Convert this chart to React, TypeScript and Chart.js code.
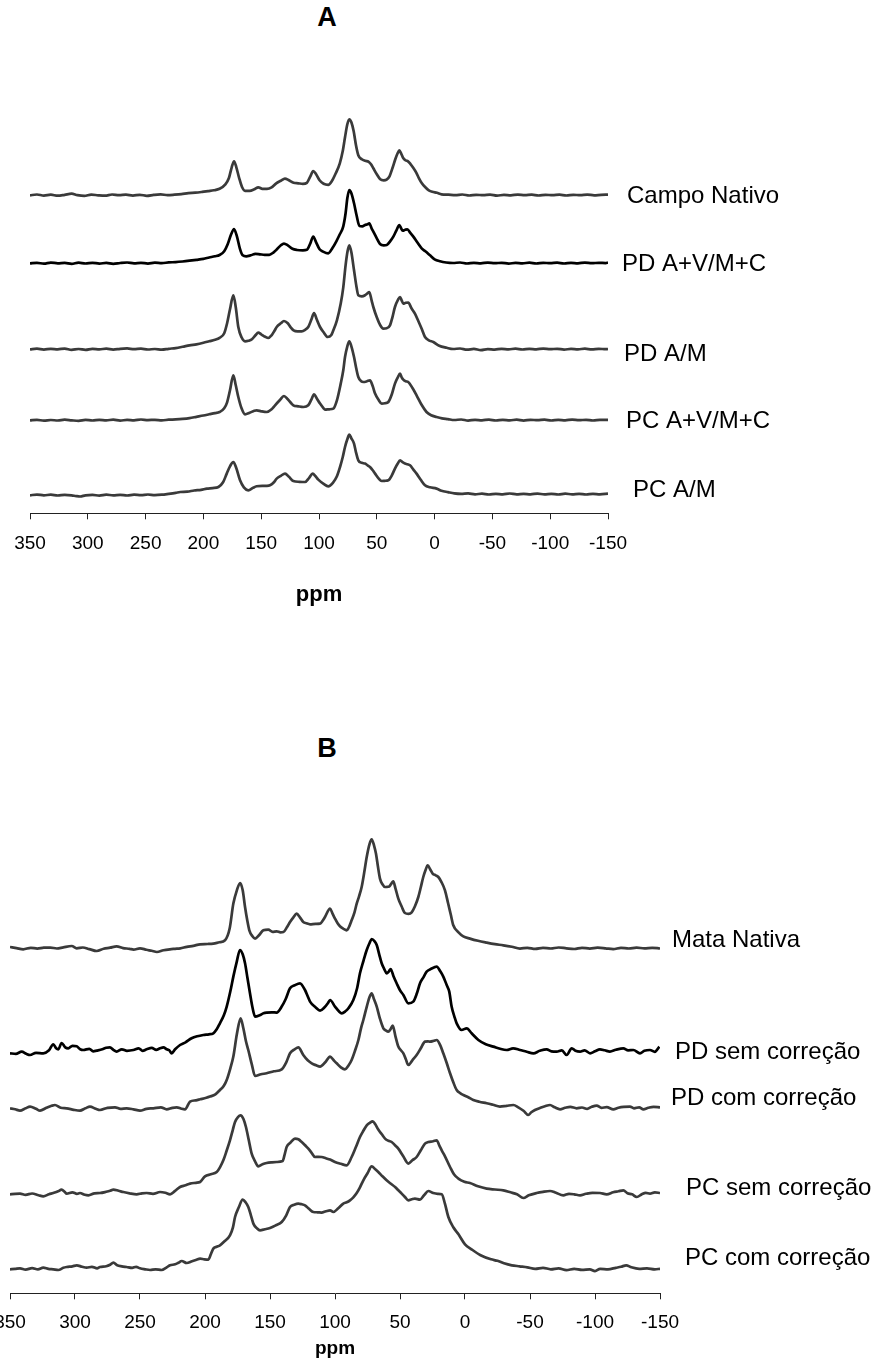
import React, { useEffect, useRef } from "react";
import { Chart, registerables } from "chart.js";

Chart.register(...registerables);

const FONT = '"Liberation Sans", Arial, Helvetica, sans-serif';

// ppm tick labels (shared by both panels)
const ppmTicks = [-150, -100, -50, 0, 50, 100, 150, 200, 250, 300, 350];

// ---------------- Panel A ----------------
const namesA = ["Campo Nativo", "PD A+V/M+C", "PD A/M", "PC A+V/M+C", "PC A/M"];
const offsetsA = [318, 250, 164, 93, 18];

const campoNativo: number[][] = [
  [350,0],[344,0.8],[338,-0.3],[332,0.6],[326,-0.4],[320,0.5],[314,1.6],[309,0.2],[303,-0.5],[297,0.7],[291,0],[285,-0.4],[279,0.8],[273,0.1],[267,0.6],[261,-0.3],[255,0.5],[249,-0.5],[243,0.4],[237,0.9],[231,0.2],[225,0.6],[219,1.2],[213,2.2],[207,2.6],[201,3.4],[196,4.2],[191,5],[186,6.5],[181,11],[178,17],[175.5,28],[173.5,34],[171.5,28],[169,17],[166.5,8],[164,4.5],[160,4.5],[156,6],[152.5,8],[149,6.5],[145,6.5],[141,8],[137,12],[133,14.5],[129.5,16.7],[126,15],[122,12.5],[118,12],[114,11.5],[110.5,12.5],[107.5,19],[105,24.3],[102.5,21],[99.5,15],[96,11.5],[92,10.5],[89,14],[85.5,22],[82,32],[79.5,44],[77.5,58],[75.5,71],[73.8,76],[72,73],[70,64],[68,50],[66,40],[63,36],[60,34.5],[57,33.5],[55,31],[53,27],[50,21],[47,16],[44,15],[41.5,15.7],[39,19],[36.5,27],[34,36],[32,42],[30.5,45],[29,42],[27,37],[25,35],[23,34],[21,31.5],[18.5,27.5],[16,23],[13.5,17],[11,12],[8,8],[5,5],[2,3.5],[-2,2.5],[-6,1],[-12,0.6],[-18,0.2],[-24,0.8],[-30,-0.2],[-36,0.5],[-42,0.1],[-48,0.7],[-54,-0.3],[-60,0.4],[-66,0],[-72,0.7],[-78,0.2],[-84,0.6],[-90,-0.2],[-96,0.5],[-102,0.1],[-108,0.6],[-114,-0.2],[-120,0.5],[-126,0.1],[-132,0.7],[-138,0],[-144,0.5],[-150,0.6]
];

const pdAVMC: number[][] = [
  [350,0],[344,0.5],[338,-0.4],[332,0.7],[326,0],[320,0.4],[314,-0.5],[308,0.6],[302,-0.2],[296,0.5],[290,-0.3],[284,0.4],[278,-0.5],[272,0.3],[266,0.8],[260,0],[254,0.5],[248,-0.3],[242,0.6],[236,0.2],[230,0.9],[224,1.2],[218,1.8],[212,2.6],[206,3.5],[200,4.5],[195,5.8],[190,7],[186,8.3],[182,12],[179,19],[176,29],[173.5,34.3],[171,27],[168.5,15],[166,8],[163,7],[159,8],[155,9.5],[151,9],[147,8.5],[143,8.5],[139.5,10.7],[136,14.5],[133,18],[130.3,19.7],[127,18],[123,14.5],[119,13.3],[114,13],[110.5,13.5],[107.5,20],[105,26.7],[102.5,21],[99.5,14],[96.5,11.7],[92,10],[88.5,15],[85,22],[82,29],[79,37],[77,50],[75.5,65],[73.8,73.3],[72,70],[69.7,60],[67.5,48],[65,37.3],[62.5,37],[60.2,38.3],[58,39],[56.5,40],[54.5,35],[53,31.7],[50,25],[47.2,19.3],[44,18],[41.4,18.3],[38.5,22],[35.7,26.7],[33,33],[30.5,38.3],[29,35],[27.6,32.7],[25.5,33.5],[23.6,34],[21,30.5],[18.4,26.7],[15,21],[11.2,15],[8,12],[4,8],[0,4],[-4.7,2],[-10,0.8],[-16,0.3],[-22,0.8],[-28,-0.2],[-34,0.5],[-40,0],[-46,0.7],[-52,0.1],[-58,0.5],[-64,-0.3],[-70,0.4],[-76,0],[-82,0.6],[-88,-0.2],[-94,0.5],[-100,0.1],[-106,0.6],[-112,-0.2],[-118,0.4],[-124,0],[-130,0.7],[-136,0.1],[-142,0.5],[-148,0.2],[-150,0.8]
];

const pdAM: number[][] = [
  [350,0],[344,0.6],[338,-0.3],[332,0.5],[326,0],[320,0.7],[314,-0.5],[308,0.3],[302,-0.6],[296,0.4],[290,0],[284,0.6],[278,-0.3],[272,0.5],[266,0.9],[260,0.1],[254,0.6],[248,-0.2],[242,0.3],[236,-0.4],[230,0.5],[224,1.2],[218,2.5],[212,4],[206,5],[200,6.5],[195,8],[190,9.5],[186,11.5],[182,16],[179.5,26],[177,40],[174.1,54],[172,42],[169.8,22.3],[167,12],[164,8],[161,8.5],[158,10],[155,14],[152.5,16.7],[150,15],[146.5,12.5],[143.9,11.3],[141,14],[138.5,18.5],[136.6,22.3],[133,26],[130.3,28.3],[127,26],[124.5,22],[122,19],[118.5,18],[115,18],[112,19.5],[109.3,22.3],[106.5,30],[104.3,36.3],[102,30],[99.1,22.3],[96,17],[92.5,12.3],[89.5,14],[87.6,19],[84.5,29],[81.2,45.7],[79,62],[77,84],[75.3,98],[73.8,104],[72,97],[69.7,79],[67.5,62],[66,54],[63,53],[60.2,54],[58,56],[56.5,57.3],[54.5,49],[53,42.3],[50,32],[47,24],[44.4,20.7],[41.5,21],[38.6,24],[36.5,32],[34.3,42.3],[31.5,50],[29.9,52.3],[28.5,49],[27.1,45.7],[25,46.5],[22.8,46.7],[20,41],[17,35.7],[14,28],[11,20],[8.3,12.3],[5,9],[1.1,7.3],[-4,3.5],[-10.5,1.5],[-16,0.3],[-22,0.8],[-28,-0.4],[-34,0.4],[-40,-0.8],[-46,0.2],[-52,-0.3],[-58,0.5],[-64,0],[-70,0.6],[-76,-0.2],[-82,0.4],[-88,0],[-94,0.7],[-100,0.1],[-106,0.5],[-112,-0.3],[-118,0.4],[-124,0],[-130,0.6],[-136,-0.1],[-142,0.5],[-148,0.1],[-150,0.3]
];

const pcAVMC: number[][] = [
  [350,0],[344,0.5],[338,-0.4],[332,0.3],[326,-0.2],[320,0.6],[314,0],[308,-0.5],[302,0.4],[296,-0.2],[290,0.5],[284,0],[278,0.6],[272,-0.3],[266,0.4],[260,0],[254,0.8],[248,0.2],[242,0.5],[236,0],[230,0.6],[224,0.9],[218,1.4],[212,2.2],[206,3.5],[200,4.8],[195,6],[190,7.2],[186,8.3],[182,12],[179.5,18],[177,30],[174.1,45],[172,35],[169.8,23.3],[167,12],[164,6],[160,7.5],[156,9.5],[153.9,10],[150,9],[145.2,8.3],[141,11],[138,15],[134,20],[130.3,24.3],[127,21],[124,17],[122.2,15],[118,14],[113.5,13.3],[109.3,15],[106.5,21],[104.3,26],[102,22],[99.1,16.7],[96,12],[94.8,10.7],[91,11],[87.6,11.7],[84.5,20],[81.2,36.7],[79,50],[77.5,63.3],[75.5,74],[73.8,79],[72,74],[69.7,63.3],[67.8,52],[66,43.3],[63.5,39],[61.6,38.3],[58.5,39],[55.9,40],[53.5,34],[51.5,26.7],[48.5,20.5],[45.8,16.7],[43,17],[40,18.3],[37,26],[34.3,36.7],[31.8,43],[29.9,46.7],[28.5,43],[27.1,40.7],[25,39],[22.8,38.3],[19,32],[15.6,25],[11,15],[7,8.3],[3,5],[-1.7,3.3],[-6.4,2],[-11.5,1.2],[-17,0.3],[-23,0.8],[-29,-0.3],[-35,0.5],[-41,0],[-47,0.7],[-53,-0.2],[-59,0.4],[-65,0],[-71,0.6],[-77,-0.3],[-83,0.5],[-89,0.1],[-95,0.6],[-101,-0.2],[-107,0.4],[-113,0],[-119,0.7],[-125,0.1],[-131,0.5],[-137,-0.2],[-143,0.4],[-150,0.5]
];

const pcAM: number[][] = [
  [350,0],[344,0.7],[338,0],[332,0.6],[326,-0.2],[320,0.5],[314,0],[310,-0.8],[306.7,-1.2],[302,0],[296,0.4],[290,-0.3],[284,0.6],[278,0],[272,0.5],[266,-0.2],[260,0.6],[254,0.2],[248,0.8],[242,0.2],[236,0.6],[230,1.5],[224,2.5],[220,3.3],[214,3.6],[208,4.8],[202,5.5],[197,6.7],[192,7.2],[187,8.3],[183,13],[179.8,21.7],[177,29],[174.1,33.3],[171.5,27],[168.3,15],[165,8],[161.2,5],[157,7.5],[153.9,9],[149,9.5],[145,9.5],[142.4,10],[139,13],[136.6,16.7],[133,19.5],[129.4,21.7],[126,18.5],[122.2,14.3],[117,13.5],[112.1,13.3],[108.5,17.5],[105.5,21.7],[103,19],[100.6,15.7],[96,11.5],[92,9],[88,12.5],[84.5,19],[81.8,28.3],[79.5,38],[77.5,48.3],[75.5,56],[73.8,60.7],[72,57],[69.7,51.7],[68,43],[66,35],[63,32.5],[60.2,31.7],[58,30],[55.9,28.3],[53.5,25],[51.5,21.7],[48.5,17],[45.8,14.3],[43,14.5],[40,15],[37,20],[34.3,26.7],[32,31.5],[29.9,35],[27.5,33],[25.6,31.7],[23.5,31],[21.3,30],[18.5,26],[15.6,21.7],[12,15.5],[8.3,10],[4,8],[-1.7,6.7],[-6,4.5],[-11.5,3.2],[-17,2],[-23,1.5],[-29,1.9],[-35,1],[-41,1.6],[-47,0.8],[-53,1.5],[-59,1],[-65,1.8],[-71,0.9],[-77,1.5],[-83,1],[-89,1.7],[-95,0.9],[-101,1.4],[-107,0.8],[-113,1.6],[-119,1],[-125,1.5],[-131,0.8],[-137,1.4],[-143,1],[-150,1.6]
];

// ---------------- Panel B ----------------
const namesB = ["Mata Nativa", "PD sem correção", "PD com correção", "PC sem correção", "PC com correção"];
const offsetsB = [345, 240, 185, 99, 24];

const mataNativa: number[][] = [
  [350,1.3],[345,0.2],[339.8,-1],[334,0.5],[329,-0.3],[324,0.6],[319,0.7],[314,-0.2],[309,1],[302.5,2.3],[298.7,0],[294,0.8],[289,-0.8],[283.3,-2.7],[278,-0.5],[273,0.6],[268,2],[263,0.2],[258,-0.5],[255,-1.3],[250,0],[245,-1.5],[241,-2.5],[237,-3.7],[232,-2],[227,-1],[223,-0.5],[219,0],[214,1.5],[209,2.5],[203.8,4],[198,4.3],[193.6,4.7],[189,6],[184.6,8],[181,20],[178.2,44.7],[175.5,58],[173,65.3],[171,58],[169.2,41.3],[167.5,28],[165.9,18],[163.5,12],[161.5,9.7],[158.5,13],[155.1,18],[151.3,18.7],[148,16.5],[144.8,17],[142,16],[139.7,16.3],[137,21],[134.6,26.3],[132,31],[129.5,34.7],[127,31],[124.4,26.3],[122,25],[119.2,24],[115,24.5],[111.5,24.7],[109.5,27.5],[107.7,31.3],[103.8,39.7],[102,35],[100,29.7],[98,25],[96.2,22],[93.5,19.5],[91,18],[89,22],[87.2,28],[85,36],[83.3,44.7],[81.5,52],[79.5,61.3],[77.5,76],[75.6,91.3],[73.5,104],[71.8,109],[70,103],[68.5,94.7],[67,82],[65.4,69.7],[63.5,64],[61.5,61.3],[59.8,61.5],[58.2,62],[56.5,65],[55.2,67],[53.5,60],[51.3,49.7],[48.8,42],[46.2,35.3],[43.5,34.5],[41,36],[38.5,42],[35.9,51.3],[34,61],[32.1,71.3],[30.4,78],[28.7,83],[26.8,79],[24.9,74.7],[22.5,73],[20.5,71.3],[18,66],[15.4,58],[13,45],[11,34],[9,23],[5,16],[1.3,12],[-3.8,9.7],[-10,7.5],[-16.7,5.7],[-23,4.2],[-29.5,3],[-36,1.5],[-42.3,-0.3],[-48,0.5],[-54,-0.6],[-60,0.4],[-66,-0.2],[-72,0.8],[-78,0],[-84,-0.7],[-90,0.5],[-96,-0.3],[-102,0.6],[-108,0],[-114,-0.8],[-120,0.4],[-126,-0.2],[-132,0.7],[-138,-0.1],[-144,0.5],[-150,-0.2]
];

const pdSem: number[][] = [
  [350,0],[345.5,-0.5],[341,1.7],[337.5,-0.5],[334.6,-1.7],[330,0.5],[324.4,0],[320,3],[316.7,9],[314.5,5],[312.8,4],[310.3,10.3],[307.5,6],[305.2,5],[302,7.5],[298.7,7],[296,4],[293.6,3.3],[289,4.5],[286,2],[283.3,2.7],[279,4],[276,5.5],[273.1,6],[270.5,3.5],[268,1.7],[264,4],[260,2.5],[255.1,3.3],[251,5],[248,2.5],[244.9,4],[241,5.5],[237.5,3.5],[234.6,5],[232,6],[229.5,4],[227.5,3],[225.6,0],[223,4],[219.2,8.3],[215,11],[210.3,15],[206,17],[201.3,18.3],[197,19],[193.6,20],[191,24],[188.5,30],[185.5,38],[183.3,46.7],[180.5,62],[178.2,76.7],[175.5,92],[173.1,103.3],[171,99],[169.2,90],[167.3,75],[165.4,60],[163.5,46],[161.5,36.7],[158,38],[155,40],[152.6,40.7],[148.5,41],[144.9,40.7],[141,46.7],[138,54],[134.6,65],[131,68],[126.9,70],[123.1,63.3],[121,57],[119.2,51.7],[115,46],[111.5,42.7],[108,46],[105.5,50],[103.8,53.3],[100,46.7],[97,42],[94.8,40],[92,42],[89.7,45],[85.9,53.3],[83,65],[80.8,80],[78,93],[75.6,103.3],[73.5,110],[71.8,114.3],[69.5,112],[67.9,108.3],[66,99],[64.1,90],[62,84],[60.3,80],[58.5,82],[57.2,84.3],[55,77],[52.6,70],[50,63],[47.4,58.3],[43.6,50],[39.8,51.7],[37,60],[34.6,70],[32,76],[29.5,81.7],[26,84.5],[23.5,86],[21.8,86.7],[19,82],[16.7,76.7],[14,68],[12.1,61.7],[10.3,46.7],[8,36],[6.4,30],[2.6,23.3],[-1.3,25],[-5.1,20],[-10.3,13.3],[-16,9],[-21.8,6.7],[-27,4.5],[-32,3.3],[-37,5],[-42.3,3.3],[-47.5,1.5],[-52.6,0],[-57.5,2.5],[-62.8,4],[-66.5,2],[-70.5,1.7],[-74.5,3],[-78.2,-1.7],[-82.1,5],[-85,2.5],[-88.5,1.7],[-92,3],[-96.2,0],[-100,2],[-103.8,4],[-107.5,3],[-111.5,1.7],[-116,3.5],[-121.8,5],[-125.5,3],[-129.5,3.3],[-134.6,0],[-138,2.5],[-142.3,3.3],[-146,1.5],[-149.5,6.7]
];

const pdCom: number[][] = [
  [350,0],[346,-1],[342.3,-2.3],[338,0],[334.6,1.7],[330,-0.5],[326.9,-2.3],[322,0.5],[318,2.5],[315.4,3.3],[311,0.5],[306.4,0],[301,-1.5],[296.2,-2.3],[292,0],[288.5,1.7],[284,-0.5],[280.8,-1.7],[275,0.5],[269.2,1],[265,-0.5],[260.3,0],[255,-1],[250,-2.3],[245,-0.5],[239.7,0],[234,1],[229.5,-1],[225,0.5],[221.8,1],[218,-0.5],[215.4,-1],[211.5,6.7],[207,8],[203.8,9],[199,10.5],[196.2,11.7],[192,14],[188.5,18.3],[185.5,22.5],[183.3,28.3],[180.5,40],[178.2,51.7],[175.5,74],[172.6,90],[170.5,80],[168.5,67],[166.7,58.3],[164,44],[161.5,32.3],[157,34],[152.6,35],[147,37],[141,39],[137.5,46],[134.6,55],[131,59],[128.2,61],[124.4,53.3],[121,48],[117.9,45],[114.5,43],[111.5,41.7],[107.5,46],[103.8,51.7],[101,48],[98.7,45],[95.5,41],[92.3,39],[89.5,43],[87.2,48.3],[84.5,58],[82,68.3],[80,80],[78.2,88.3],[75.5,102],[73.5,111],[71.8,115],[70,109],[67.9,101.7],[65.5,90],[62.8,80],[61,78],[59,76.7],[57.3,79],[55.6,82.7],[53.5,72],[51.3,61.7],[49.3,58],[47.4,55],[45.5,49],[43.6,43.3],[40.5,48],[37.2,53.3],[34,60],[30.8,66.7],[28.5,67],[26.9,66.7],[24,67.5],[21.8,68.3],[19,63],[16.7,55],[14,45],[11.5,35],[9,26],[6.4,18.3],[3.5,15],[1.3,13.3],[-2.5,11],[-6.4,8.3],[-11,6.5],[-16.7,5],[-21.5,3.5],[-26.9,1.7],[-32,2.5],[-37.2,3.3],[-41,1],[-45,-2.5],[-48.7,-6.7],[-51,-4],[-53.8,-1.7],[-58,0.5],[-61.5,2],[-65.4,3.3],[-69,1],[-73.1,-1],[-77,0.5],[-81,1.5],[-85.9,0],[-90,0.8],[-94,-0.5],[-97.5,1.5],[-101.3,2.7],[-105,0.5],[-109,1.2],[-114.1,-1],[-118,0.6],[-122,1.5],[-126.9,1.7],[-130,0],[-134,1],[-137.2,-1],[-141,0.5],[-145,1.5],[-150,1]
];

const pcSem: number[][] = [
  [350,0],[346,0.5],[342.3,0.7],[338,-0.5],[333,0.8],[328,-1],[324.4,-2],[320,0],[316.7,1.3],[313,3],[310.3,4.7],[308,2.5],[306.4,0.7],[302,2],[298.5,0.5],[296.2,1.3],[292.5,-0.5],[289.7,-1],[285,1],[280.8,1.3],[276,2.5],[273,3.5],[270.5,4.7],[266.5,3.5],[262.8,2.3],[258,1],[252.6,0],[248.5,1],[244.9,1.3],[240,0.5],[234.6,2.3],[230.5,1.5],[226.9,0],[223,3.5],[219.2,7.3],[215,9],[211.5,10.7],[207,11.5],[203.8,12.3],[200,18],[195.5,20],[191,22.3],[188.5,27],[185.9,34],[183.5,43],[180.8,54],[178.5,65],[176.9,72.3],[174.5,77.5],[172.6,79],[170.5,75.5],[168.5,67.3],[166.3,54],[164.1,40.7],[161.5,33],[159,28],[155.8,30],[152.6,31.3],[148.5,32],[144.9,32.3],[140.3,33.3],[138.5,41],[137.2,47.3],[134,52],[130.8,55.7],[128.2,55],[125.6,52.3],[123,49],[120.5,45.7],[118,41.5],[115.4,37.3],[112.8,37.5],[110.3,37.3],[107,36],[103.8,34.7],[100,32.3],[95.5,30.5],[91,29],[87.2,37.3],[84,47],[80.8,57.3],[78.2,63.5],[75.6,69],[73.2,71.5],[71,73],[69,70],[66.7,64.7],[64,60],[61.5,55.7],[58.9,53.5],[56.4,52.3],[53.8,49],[51.3,45.7],[47.5,38],[43.6,30.7],[40.5,34],[37.2,37.3],[34,44],[30.8,50.7],[28.2,52.3],[24.5,53],[21.8,54],[19.8,49],[17.9,44],[15.4,38],[11.5,27.3],[8.5,20],[5.1,15.7],[0.5,12.5],[-3.8,11.3],[-10,8],[-16.7,5.7],[-23,4.8],[-29.5,4],[-35,2],[-40,0],[-44.9,-3.7],[-49,-1],[-55.1,1.3],[-60,2.5],[-65.4,3.3],[-70,1.5],[-75.6,-1],[-80,0.5],[-84,0],[-88.5,-1],[-93,0.5],[-98,1.5],[-103.8,1.3],[-109,0],[-114,2],[-118,3],[-121.8,4],[-125,1],[-128.5,0],[-132.1,-2.7],[-136,0],[-139,1.5],[-142.3,0.7],[-146,2],[-150,1.3]
];

const pcCom: number[][] = [
  [350,0],[346,0.5],[342.3,1],[338,-0.3],[333,1.2],[328.5,0],[324.4,1.7],[320.5,0.5],[316.7,0],[312.8,-0.7],[309,1.5],[306.4,2.3],[302,3],[298.7,4],[294.5,2.5],[291,1.7],[287,2.5],[283,1],[280.8,2.3],[276,3],[273,4.5],[270.5,6.7],[267.5,4],[264,3],[260.3,2.3],[256,1.5],[253,2.5],[250,1],[246,0],[242.3,-0.7],[238,0],[233.3,-0.7],[230,1.5],[226.9,4],[223,5],[220.5,6.5],[217.9,8.3],[214.1,6.3],[210,8],[206.5,9.5],[203.8,10.7],[200.5,10],[197.4,9.7],[195.5,15],[193.6,20.7],[191,22.5],[188.5,24],[185,28],[180.8,34],[178.5,42],[176.9,52.3],[174,62],[171,69.7],[168.8,67],[166.7,62.3],[164.7,54],[162.8,45.7],[160,41],[157.7,39],[154,40],[150,41.3],[145.5,44],[141,47.3],[137.5,54],[134.6,62.3],[131.5,64.5],[128.2,65.7],[125.5,65],[123.1,64],[120,60.5],[116.7,57.3],[113.5,57],[110.3,56.7],[107,58],[103.8,59],[101.3,57.3],[97.5,61],[93.6,65.7],[91,67],[88.5,69],[85.9,72],[83.3,76.3],[80.8,82],[78.2,89],[75,96],[71.8,103],[69,100],[66.7,97.3],[63.5,93],[60.3,89],[57,85.5],[53.8,82.3],[51.3,79],[48.7,75.7],[46,72],[43.6,69],[41,70],[38.5,70.7],[34.6,69.7],[31.5,74],[28.2,78.3],[24.4,76.3],[21,75.5],[17.9,75],[15.5,66],[12.8,52.3],[9,42],[5,35],[0,25],[-5,20],[-12,14],[-20,10],[-25,8.5],[-30,6],[-36,4],[-42,3],[-48,2],[-54,0.5],[-60,1.5],[-66,0],[-72,1],[-78,-0.8],[-84,0.5],[-90,-0.5],[-96,0],[-100,-1.8],[-104,0.5],[-110,0],[-116,1.5],[-120,2.5],[-124,4],[-128,2],[-134,0.5],[-140,1],[-146,0],[-150,0.5]
];

const spectraA = [campoNativo, pdAVMC, pdAM, pcAVMC, pcAM];
const spectraB = [mataNativa, pdSem, pdCom, pcSem, pcCom];

// ---------------- styling ----------------
const GRAY = "#3a3a3a";
const colorsA = [GRAY, "#000000", GRAY, GRAY, GRAY];
const colorsB = [GRAY, "#000000", GRAY, GRAY, GRAY];
const labelDxA = [19, 14, 16, 18, 25];
const labelDyA = [1, 1, 5.5, 1, -4.7];
const labelDxB = [12, 15, 11, 26, 25];
const labelDyB = [-7.5, -1, -10, -6, -11];

type PanelProps = {
  names: string[];
  spectra: number[][][];
  offsets: number[];
  colors: string[];
  labelDx: number[];
  labelDy: number[];
  width: number;
  height: number;
  left: number;
  top: number;
  padding: { top: number; left: number; right: number; bottom: number };
  yMax: number;
  tickPadding: number;
  titleSize: number;
  titlePadTop: number;
};

function Panel(p: PanelProps) {
  const ref = useRef<HTMLCanvasElement | null>(null);
  useEffect(() => {
    if (!ref.current) return;
    const datasets = p.spectra.map((s, i) => ({
      label: p.names[i],
      data: s.map(([x, v]) => ({ x, y: p.offsets[i] + v })),
      borderColor: p.colors[i],
      backgroundColor: p.colors[i],
      borderWidth: 2.7,
      showLine: true,
      pointRadius: 0,
      cubicInterpolationMode: "monotone" as const,
    }));
    const seriesLabels = {
      id: "seriesLabels",
      afterDatasetsDraw(chart: any) {
        const { ctx, chartArea, scales } = chart;
        ctx.save();
        ctx.font = `24px ${FONT}`;
        ctx.fillStyle = "#000";
        ctx.textAlign = "left";
        ctx.textBaseline = "middle";
        p.names.forEach((n, i) => {
          const y = scales.y.getPixelForValue(p.offsets[i]) + p.labelDy[i];
          ctx.fillText(n, chartArea.right + p.labelDx[i], y);
        });
        ctx.restore();
      },
    };
    const chart = new Chart(ref.current, {
      type: "scatter",
      data: { datasets },
      options: {
        responsive: false,
        animation: false,
        devicePixelRatio: 1,
        layout: { padding: p.padding },
        plugins: { legend: { display: false }, tooltip: { enabled: false }, title: { display: false } },
        scales: {
          x: {
            type: "linear",
            reverse: true,
            min: -150,
            max: 350,
            afterBuildTicks: (scale: any) => {
              scale.ticks = ppmTicks.map((v) => ({ value: v }));
            },
            ticks: {
              autoSkip: false,
              maxRotation: 0,
              padding: p.tickPadding,
              color: "#000",
              font: { family: FONT, size: 19 },
              callback: (v: any) => String(v),
            },
            grid: {
              display: true,
              drawOnChartArea: false,
              drawTicks: true,
              tickLength: 6,
              tickColor: "#222",
              tickWidth: 1,
            },
            border: { display: true, color: "#222", width: 1 },
            title: {
              display: true,
              text: "ppm",
              color: "#000",
              font: { family: FONT, size: p.titleSize, weight: "bold" },
              padding: { top: p.titlePadTop, bottom: 0 },
            },
          },
          y: { display: false, min: 0, max: p.yMax },
        },
      },
      plugins: [seriesLabels],
    } as any);
    return () => chart.destroy();
  }, []);
  return (
    <canvas
      ref={ref}
      width={p.width}
      height={p.height}
      style={{ position: "absolute", left: p.left, top: p.top, width: p.width, height: p.height, display: "block" }}
    />
  );
}

const letterStyle = (top: number): React.CSSProperties => ({
  position: "absolute",
  left: 327,
  top,
  transform: "translateX(-50%)",
  fontFamily: FONT,
  fontWeight: "bold",
  fontSize: 27,
  lineHeight: "27px",
  color: "#000",
});

export default function App() {
  return (
    <div style={{ position: "absolute", left: 0, top: 0, width: 889, height: 1365, overflow: "hidden", background: "#fff" }}>
      <div style={letterStyle(3.5)}>A</div>
      <Panel
        names={namesA}
        spectra={spectraA}
        offsets={offsetsA}
        colors={colorsA}
        labelDx={labelDxA}
        labelDy={labelDyA}
        width={889}
        height={620}
        left={0}
        top={0}
        padding={{ top: 100, left: 30, right: 281, bottom: 11.4 }}
        yMax={413.3}
        tickPadding={13}
        titleSize={22}
        titlePadTop={14.1}
      />
      <div style={letterStyle(734.5)}>B</div>
      <Panel
        names={namesB}
        spectra={spectraB}
        offsets={offsetsB}
        colors={colorsB}
        labelDx={labelDxB}
        labelDy={labelDyB}
        width={909}
        height={665}
        left={-20}
        top={700}
        padding={{ top: 100, left: 30, right: 229, bottom: 4.6 }}
        yMax={493.3}
        tickPadding={12}
        titleSize={19}
        titlePadTop={-8.5}
      />
    </div>
  );
}
